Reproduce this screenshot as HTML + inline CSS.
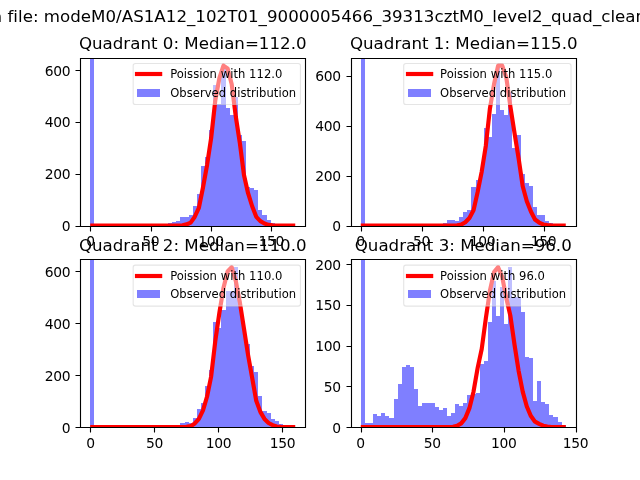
<!DOCTYPE html>
<html lang="en"><head><meta charset="utf-8"><title>Quadrant histograms</title>
<style>html,body{margin:0;padding:0;background:#fff;overflow:hidden}svg{display:block}text{font-family:"DejaVu Sans", "Liberation Sans", sans-serif;fill:#000}</style></head><body>
<svg width="640" height="480" viewBox="0 0 640 480">
<rect width="640" height="480" fill="#fff"/>
<text x="-45.2" y="21.9" font-size="16.667" letter-spacing="0.015">Clean file: modeM0/AS1A12_102T01_9000005466_39313cztM0_level2_quad_clean.evt</text>
<g id="ax0">
<clipPath id="c0"><rect x="80" y="57" width="226" height="169"/></clipPath>
<path clip-path="url(#c0)" d="M90 226V58H94V226ZM168 226V223H172V226ZM172 226V222H176V226ZM176 226V221H180V226ZM180 226V217H185V226ZM185 226V217H189V226ZM189 226V215H193V226ZM193 226V206H197V226ZM197 226V194H201V226ZM201 226V166H205V226ZM205 226V157H209V226ZM209 226V130H213V226ZM213 226V85H217V226ZM217 226V104H221V226ZM221 226V68H226V226ZM226 226V108H230V226ZM230 226V115H234V226ZM234 226V97H238V226ZM238 226V135H242V226ZM242 226V141H246V226ZM246 226V187H250V226ZM250 226V188H254V226ZM254 226V190H258V226ZM258 226V210H262V226ZM262 226V215H267V226ZM267 226V220H271V226ZM271 226V223H275V226ZM275 226V224H279V226Z" fill="#0000ff" fill-opacity="0.5" shape-rendering="crispEdges"/>
<polyline clip-path="url(#c0)" points="92.30,225.60 96.40,225.60 100.50,225.60 104.60,225.60 108.69,225.60 112.79,225.60 116.89,225.60 120.99,225.60 125.09,225.60 129.19,225.60 133.29,225.60 137.39,225.60 141.49,225.60 145.59,225.60 149.69,225.60 153.79,225.60 157.88,225.60 161.98,225.60 166.08,225.60 170.18,225.60 174.28,225.58 178.38,225.51 182.48,225.31 186.58,224.41 190.68,222.58 194.78,216.70 198.88,207.87 202.98,187.48 207.07,165.06 211.17,137.93 215.27,100.59 219.37,78.13 223.47,65.60 227.57,68.39 231.67,84.09 235.77,116.39 239.87,143.14 243.97,174.92 248.07,193.19 252.17,206.25 256.26,216.83 260.36,221.11 264.46,223.44 268.56,224.86 272.66,225.29 276.76,225.51 280.86,225.57 284.96,225.59 289.06,225.60 293.16,225.60" fill="none" stroke="#ff0000" stroke-width="4.167" stroke-linejoin="round" stroke-linecap="square"/>
<path d="M90.5 226.50v5M151.5 226.50v5M211.5 226.50v5M271.5 226.50v5M80.50 226.5h-5M80.50 174.5h-5M80.50 122.5h-5M80.50 70.5h-5" stroke="#000" stroke-width="1.111" fill="none"/>
<path d="M80.5 58.5H305.5V226.5H80.5Z" stroke="#000" stroke-width="1.111" fill="none" stroke-linejoin="miter"/>
<text x="90.45" y="246.10" font-size="13.889" letter-spacing="-0.3" text-anchor="middle">0</text>
<text x="150.73" y="246.10" font-size="13.889" letter-spacing="-0.3" text-anchor="middle">50</text>
<text x="211.01" y="246.10" font-size="13.889" letter-spacing="-0.3" text-anchor="middle">100</text>
<text x="271.29" y="246.10" font-size="13.889" letter-spacing="-0.3" text-anchor="middle">150</text>
<text x="70.28" y="230.90" font-size="13.889" letter-spacing="-0.3" text-anchor="end">0</text>
<text x="70.28" y="178.90" font-size="13.889" letter-spacing="-0.3" text-anchor="end">200</text>
<text x="70.28" y="126.90" font-size="13.889" letter-spacing="-0.3" text-anchor="end">400</text>
<text x="70.28" y="75.90" font-size="13.889" letter-spacing="-0.3" text-anchor="end">600</text>
<text x="192.73" y="49.27" font-size="16.667" text-anchor="middle">Quadrant 0: Median=112.0</text>
<rect x="133.16" y="63.49" width="167.30" height="41.00" rx="2.3" ry="2.3" fill="#fff" fill-opacity="0.5" stroke="#ccc" stroke-opacity="0.5" stroke-width="1.111"/>
<path d="M137 74h23.15" stroke="#ff0000" stroke-width="4.167" stroke-linecap="square" fill="none"/>
<rect x="137" y="89" width="23" height="8" fill="#0000ff" fill-opacity="0.5"/>
<text x="170.15" y="77.70" font-size="11.574" letter-spacing="0.04">Poission with 112.0</text>
<text x="170.15" y="96.60" font-size="11.574" letter-spacing="0.04">Observed distribution</text>
</g>
<g id="ax1">
<clipPath id="c1"><rect x="350" y="57" width="226" height="169"/></clipPath>
<path clip-path="url(#c1)" d="M361 226V58H365V226ZM439 226V224H443V226ZM443 226V223H447V226ZM447 226V220H451V226ZM451 226V220H455V226ZM455 226V221H459V226ZM459 226V217H463V226ZM463 226V212H467V226ZM467 226V210H471V226ZM471 226V187H476V226ZM476 226V180H480V226ZM480 226V169H484V226ZM484 226V128H488V226ZM488 226V137H492V226ZM492 226V114H496V226ZM496 226V67H500V226ZM500 226V110H504V226ZM504 226V115H508V226ZM508 226V92H512V226ZM512 226V148H517V226ZM517 226V135H521V226ZM521 226V174H525V226ZM525 226V183H529V226ZM529 226V186H533V226ZM533 226V207H537V226ZM537 226V215H541V226ZM541 226V215H545V226ZM545 226V221H549V226ZM549 226V223H553V226ZM553 226V224H558V226Z" fill="#0000ff" fill-opacity="0.5" shape-rendering="crispEdges"/>
<polyline clip-path="url(#c1)" points="362.84,225.60 366.94,225.60 371.04,225.60 375.14,225.60 379.24,225.60 383.34,225.60 387.44,225.60 391.54,225.60 395.64,225.60 399.74,225.60 403.83,225.60 407.93,225.60 412.03,225.60 416.13,225.60 420.23,225.60 424.33,225.60 428.43,225.60 432.53,225.60 436.63,225.60 440.73,225.60 444.83,225.60 448.93,225.58 453.02,225.49 457.12,225.26 461.22,224.61 465.32,222.22 469.42,218.05 473.52,210.35 477.62,192.15 481.72,171.54 485.82,145.80 489.92,108.53 494.02,84.25 498.12,65.61 502.21,65.60 506.31,77.49 510.41,106.71 514.51,133.01 518.61,158.45 522.71,186.32 526.81,201.32 530.91,211.55 535.01,219.47 539.11,222.54 543.21,224.50 547.31,225.12 551.40,225.41 555.50,225.55 559.60,225.58 563.70,225.59" fill="none" stroke="#ff0000" stroke-width="4.167" stroke-linejoin="round" stroke-linecap="square"/>
<path d="M361.5 226.50v5M422.5 226.50v5M483.5 226.50v5M544.5 226.50v5M351.50 226.5h-5M351.50 176.5h-5M351.50 126.5h-5M351.50 76.5h-5" stroke="#000" stroke-width="1.111" fill="none"/>
<path d="M351.5 58.5H576.5V226.5H351.5Z" stroke="#000" stroke-width="1.111" fill="none" stroke-linejoin="miter"/>
<text x="360.49" y="246.10" font-size="13.889" letter-spacing="-0.3" text-anchor="middle">0</text>
<text x="421.49" y="246.10" font-size="13.889" letter-spacing="-0.3" text-anchor="middle">50</text>
<text x="482.49" y="246.10" font-size="13.889" letter-spacing="-0.3" text-anchor="middle">100</text>
<text x="543.49" y="246.10" font-size="13.889" letter-spacing="-0.3" text-anchor="middle">150</text>
<text x="340.83" y="230.90" font-size="13.889" letter-spacing="-0.3" text-anchor="end">0</text>
<text x="340.83" y="180.90" font-size="13.889" letter-spacing="-0.3" text-anchor="end">200</text>
<text x="340.83" y="130.90" font-size="13.889" letter-spacing="-0.3" text-anchor="end">400</text>
<text x="340.83" y="80.90" font-size="13.889" letter-spacing="-0.3" text-anchor="end">600</text>
<text x="463.77" y="49.27" font-size="16.667" text-anchor="middle">Quadrant 1: Median=115.0</text>
<rect x="403.71" y="63.49" width="167.30" height="41.00" rx="2.3" ry="2.3" fill="#fff" fill-opacity="0.5" stroke="#ccc" stroke-opacity="0.5" stroke-width="1.111"/>
<path d="M408 74h23.15" stroke="#ff0000" stroke-width="4.167" stroke-linecap="square" fill="none"/>
<rect x="408" y="89" width="23" height="8" fill="#0000ff" fill-opacity="0.5"/>
<text x="440.10" y="77.70" font-size="11.574" letter-spacing="0.04">Poission with 115.0</text>
<text x="440.10" y="96.60" font-size="11.574" letter-spacing="0.04">Observed distribution</text>
</g>
<g id="ax2">
<clipPath id="c2"><rect x="80" y="259" width="226" height="169"/></clipPath>
<path clip-path="url(#c2)" d="M90 427V259H94V427ZM180 427V423H185V427ZM185 427V422H189V427ZM189 427V423H193V427ZM193 427V418H197V427ZM197 427V409H201V427ZM201 427V403H205V427ZM205 427V386H209V427ZM209 427V370H213V427ZM213 427V322H217V427ZM217 427V328H221V427ZM221 427V310H226V427ZM226 427V291H230V427ZM230 427V291H234V427ZM234 427V267H238V427ZM238 427V303H242V427ZM242 427V329H246V427ZM246 427V344H250V427ZM250 427V366H254V427ZM254 427V372H258V427ZM258 427V396H262V427ZM262 427V411H267V427ZM267 427V413H271V427ZM271 427V419H275V427ZM275 427V421H279V427ZM279 427V424H283V427Z" fill="#0000ff" fill-opacity="0.5" shape-rendering="crispEdges"/>
<polyline clip-path="url(#c2)" points="92.30,427.20 96.40,427.20 100.50,427.20 104.60,427.20 108.69,427.20 112.79,427.20 116.89,427.20 120.99,427.20 125.09,427.20 129.19,427.20 133.29,427.20 137.39,427.20 141.49,427.20 145.59,427.20 149.69,427.20 153.79,427.20 157.88,427.20 161.98,427.20 166.08,427.20 170.18,427.20 174.28,427.19 178.38,427.17 182.48,427.09 186.58,426.84 190.68,426.14 194.78,423.49 198.88,418.87 202.98,410.37 207.07,396.47 211.17,376.34 215.27,341.31 219.37,312.87 223.47,287.92 227.57,271.54 231.67,267.20 235.77,280.93 239.87,302.46 243.97,328.67 248.07,354.97 252.17,377.98 256.26,400.76 260.36,411.90 264.46,418.92 268.56,423.01 272.66,425.21 276.76,426.53 280.86,426.93 284.96,427.09 289.06,427.16 293.16,427.19" fill="none" stroke="#ff0000" stroke-width="4.167" stroke-linejoin="round" stroke-linecap="square"/>
<path d="M90.5 427.50v5M154.5 427.50v5M218.5 427.50v5M282.5 427.50v5M80.50 427.5h-5M80.50 375.5h-5M80.50 323.5h-5M80.50 271.5h-5" stroke="#000" stroke-width="1.111" fill="none"/>
<path d="M80.5 259.5H305.5V427.5H80.5Z" stroke="#000" stroke-width="1.111" fill="none" stroke-linejoin="miter"/>
<text x="90.45" y="448.15" font-size="13.889" letter-spacing="-0.3" text-anchor="middle">0</text>
<text x="154.50" y="448.15" font-size="13.889" letter-spacing="-0.3" text-anchor="middle">50</text>
<text x="218.55" y="448.15" font-size="13.889" letter-spacing="-0.3" text-anchor="middle">100</text>
<text x="282.60" y="448.15" font-size="13.889" letter-spacing="-0.3" text-anchor="middle">150</text>
<text x="70.28" y="432.90" font-size="13.889" letter-spacing="-0.3" text-anchor="end">0</text>
<text x="70.28" y="380.90" font-size="13.889" letter-spacing="-0.3" text-anchor="end">200</text>
<text x="70.28" y="328.90" font-size="13.889" letter-spacing="-0.3" text-anchor="end">400</text>
<text x="70.28" y="276.90" font-size="13.889" letter-spacing="-0.3" text-anchor="end">600</text>
<text x="192.73" y="250.87" font-size="16.667" text-anchor="middle">Quadrant 2: Median=110.0</text>
<rect x="133.16" y="265.09" width="167.30" height="41.00" rx="2.3" ry="2.3" fill="#fff" fill-opacity="0.5" stroke="#ccc" stroke-opacity="0.5" stroke-width="1.111"/>
<path d="M137 276h23.15" stroke="#ff0000" stroke-width="4.167" stroke-linecap="square" fill="none"/>
<rect x="137" y="290" width="23" height="8" fill="#0000ff" fill-opacity="0.5"/>
<text x="170.15" y="279.90" font-size="11.574" letter-spacing="0.04">Poission with 110.0</text>
<text x="170.15" y="298.20" font-size="11.574" letter-spacing="0.04">Observed distribution</text>
</g>
<g id="ax3">
<clipPath id="c3"><rect x="350" y="259" width="226" height="169"/></clipPath>
<path clip-path="url(#c3)" d="M361 427V259H365V427ZM365 427V423H369V427ZM369 427V423H373V427ZM373 427V414H377V427ZM377 427V416H381V427ZM381 427V413H385V427ZM385 427V416H389V427ZM389 427V418H394V427ZM394 427V399H398V427ZM398 427V384H402V427ZM402 427V367H406V427ZM406 427V365H410V427ZM410 427V367H414V427ZM414 427V389H418V427ZM418 427V406H422V427ZM422 427V403H426V427ZM426 427V403H430V427ZM430 427V403H435V427ZM435 427V407H439V427ZM439 427V410H443V427ZM443 427V408H447V427ZM447 427V416H451V427ZM451 427V413H455V427ZM455 427V404H459V427ZM459 427V406H463V427ZM463 427V403H467V427ZM467 427V395H471V427ZM471 427V394H476V427ZM476 427V393H480V427ZM480 427V364H484V427ZM484 427V361H488V427ZM488 427V322H492V427ZM492 427V281H496V427ZM496 427V316H500V427ZM500 427V287H504V427ZM504 427V324H508V427ZM508 427V267H512V427ZM512 427V297H517V427ZM517 427V297H521V427ZM521 427V312H525V427ZM525 427V357H529V427ZM529 427V358H533V427ZM533 427V401H537V427ZM537 427V381H541V427ZM541 427V402H545V427ZM545 427V404H549V427ZM549 427V415H553V427ZM553 427V417H558V427ZM558 427V422H562V427ZM562 427V425H566V427Z" fill="#0000ff" fill-opacity="0.5" shape-rendering="crispEdges"/>
<polyline clip-path="url(#c3)" points="362.84,427.20 366.94,427.20 371.04,427.20 375.14,427.20 379.24,427.20 383.34,427.20 387.44,427.20 391.54,427.20 395.64,427.20 399.74,427.20 403.83,427.20 407.93,427.20 412.03,427.20 416.13,427.20 420.23,427.20 424.33,427.20 428.43,427.20 432.53,427.20 436.63,427.20 440.73,427.19 444.83,427.15 448.93,427.07 453.02,426.74 457.12,425.78 461.22,423.37 465.32,418.12 469.42,408.16 473.52,391.70 477.62,368.09 481.72,349.06 485.82,318.50 489.92,290.76 494.02,272.17 498.12,267.20 502.21,276.78 506.31,298.02 510.41,316.06 514.51,344.63 518.61,370.79 522.71,391.67 526.81,406.53 530.91,416.07 535.01,421.64 539.11,423.84 543.21,425.71 547.31,426.59 551.40,426.96 555.50,427.12 559.60,427.17 563.70,427.19" fill="none" stroke="#ff0000" stroke-width="4.167" stroke-linejoin="round" stroke-linecap="square"/>
<path d="M361.5 427.50v5M432.5 427.50v5M504.5 427.50v5M576.5 427.50v5M351.50 427.5h-5M351.50 386.5h-5M351.50 346.5h-5M351.50 305.5h-5M351.50 264.5h-5" stroke="#000" stroke-width="1.111" fill="none"/>
<path d="M351.5 259.5H576.5V427.5H351.5Z" stroke="#000" stroke-width="1.111" fill="none" stroke-linejoin="miter"/>
<text x="360.49" y="448.15" font-size="13.889" letter-spacing="-0.3" text-anchor="middle">0</text>
<text x="432.16" y="448.15" font-size="13.889" letter-spacing="-0.3" text-anchor="middle">50</text>
<text x="503.82" y="448.15" font-size="13.889" letter-spacing="-0.3" text-anchor="middle">100</text>
<text x="575.49" y="448.15" font-size="13.889" letter-spacing="-0.3" text-anchor="middle">150</text>
<text x="340.83" y="432.90" font-size="13.889" letter-spacing="-0.3" text-anchor="end">0</text>
<text x="340.83" y="391.90" font-size="13.889" letter-spacing="-0.3" text-anchor="end">50</text>
<text x="340.83" y="350.90" font-size="13.889" letter-spacing="-0.3" text-anchor="end">100</text>
<text x="340.83" y="309.90" font-size="13.889" letter-spacing="-0.3" text-anchor="end">150</text>
<text x="340.83" y="269.90" font-size="13.889" letter-spacing="-0.3" text-anchor="end">200</text>
<text x="463.27" y="250.87" font-size="16.667" text-anchor="middle">Quadrant 3: Median=96.0</text>
<rect x="403.71" y="265.09" width="167.30" height="41.00" rx="2.3" ry="2.3" fill="#fff" fill-opacity="0.5" stroke="#ccc" stroke-opacity="0.5" stroke-width="1.111"/>
<path d="M408 276h23.15" stroke="#ff0000" stroke-width="4.167" stroke-linecap="square" fill="none"/>
<rect x="408" y="290" width="23" height="8" fill="#0000ff" fill-opacity="0.5"/>
<text x="440.10" y="279.90" font-size="11.574" letter-spacing="0.04">Poission with 96.0</text>
<text x="440.10" y="298.20" font-size="11.574" letter-spacing="0.04">Observed distribution</text>
</g>
</svg></body></html>
